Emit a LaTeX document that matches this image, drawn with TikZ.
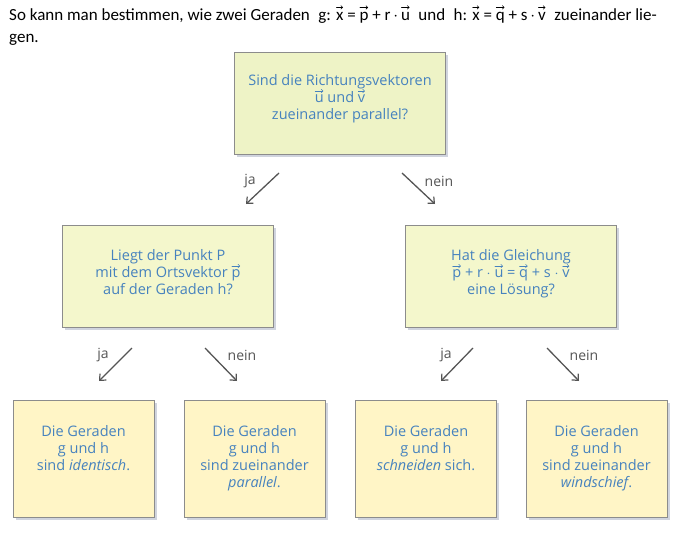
\documentclass[tikz,border=0pt]{standalone}
\usepackage{fontspec}
\setmainfont{Carlito}
\newfontfamily\boxfont{Open Sans}
\usetikzlibrary{shadows,arrows.meta}
\definecolor{topfill}{RGB}{238,243,198}
\definecolor{midfill}{RGB}{244,247,204}
\definecolor{botfill}{RGB}{255,245,198}
\definecolor{boxline}{RGB}{140,140,140}
\definecolor{shadowc}{RGB}{208,212,222}
\definecolor{txtblue}{RGB}{70,130,190}
\definecolor{arrowc}{RGB}{85,85,85}
\newsavebox\vvbox
\newlength\vvw
\newlength\vvh
\newcommand\vv[1]{\leavevmode\colorlet{vvc}{.}\sbox\vvbox{#1}\setlength\vvw{\wd\vvbox}\setlength\vvh{0.8em}%
  \makebox[0pt][l]{\smash{\tikz[baseline=0pt,x=1pt,y=1pt]{\path (0,0);
    \draw[draw=vvc, line width=0.6pt, line cap=round, -{Straight Barb[length=1.8pt,width=3.6pt,line width=0.55pt]}] (0.4pt,\vvh) -- (\vvw-0.4pt,\vvh);}}}%
  \usebox\vvbox\relax}
\begin{document}
\begin{tikzpicture}[x=1pt,y=-1pt,
  qbox/.style={draw=boxline, line width=1pt, inner sep=0pt,
    drop shadow={shadow xshift=2.5pt, shadow yshift=-2.5pt, fill=shadowc, opacity=1}},
  bigbox/.style={qbox, minimum width=211pt, minimum height=102pt},
  smallbox/.style={qbox, fill=botfill, minimum width=141pt, minimum height=117pt},
  btxt/.style={text=txtblue, align=center, inner sep=0pt, anchor=north,
    font=\boxfont\fontsize{14.5}{17}\selectfont},
  lbl/.style={text=arrowc, inner sep=0pt, font=\boxfont\fontsize{14}{15}\selectfont},
  conn/.style={draw=arrowc, line width=1.3pt, -{Straight Barb[length=5pt,width=9pt,line width=1.2pt]}},
  head/.style={anchor=base west, inner sep=0pt, font=\fontsize{17}{20}\selectfont}
]
\useasboundingbox (0,0) rectangle (684,535);

% header
\node[head] (head1) at (9,21) {So kann man bestimmen, wie zwei Geraden\hspace{0.5em}g: \vv{x} = \vv{p} + r\,$\cdot$\,\vv{u}\hspace{0.5em}und\hspace{0.5em}h: \vv{x} = \vv{q} + s\,$\cdot$\,\vv{v}\hspace{0.5em}zueinander lie-};
\node[head] (head2) at (9,42) {gen.};

% boxes
\node[bigbox, fill=topfill] (top) at (340,103.5) {};
\node[btxt] (toptxt) at ([yshift=-22.4pt]top.north) {Sind die Richtungsvektoren\\ \vv{u} und \vv{v}\\ zueinander parallel?};

\node[bigbox, fill=midfill] (midL) at (168,276.5) {};
\node[btxt] (midLtxt) at ([yshift=-24.4pt]midL.north) {Liegt der Punkt P\\ mit dem Ortsvektor \vv{p}\\ auf der Geraden h?};

\node[bigbox, fill=midfill] (midR) at (511,276.5) {};
\node[btxt] (midRtxt) at ([yshift=-24.4pt]midR.north) {Hat die Gleichung\\ \vv{p} + r $\cdot$ \vv{u} = \vv{q} + s $\cdot$ \vv{v}\\ eine Lösung?};

\node[smallbox] (b1) at (83.5,458.5) {};
\node[btxt] (b1txt) at ([yshift=-25.4pt]b1.north) {Die Geraden\\ g und h\\ sind \textit{identisch}.};
\node[smallbox] (b2) at (254.5,458.5) {};
\node[btxt] (b2txt) at ([yshift=-25.4pt]b2.north) {Die Geraden\\ g und h\\ sind zueinander\\ \textit{parallel}.};
\node[smallbox] (b3) at (426,458.5) {};
\node[btxt] (b3txt) at ([yshift=-25.4pt]b3.north) {Die Geraden\\ g und h\\ \textit{schneiden} sich.};
\node[smallbox] (b4) at (596.5,458.5) {};
\node[btxt] (b4txt) at ([yshift=-25.4pt]b4.north) {Die Geraden\\ g und h\\ sind zueinander\\ \textit{windschief}.};

% connectors
\coordinate (a1s) at (279,173); \coordinate (a1e) at (246,204);
\coordinate (a2s) at (402,173); \coordinate (a2e) at (435,204);
\coordinate (c1s) at (132,348); \coordinate (c1e) at (99,381);
\coordinate (c2s) at (205,348); \coordinate (c2e) at (237,381);
\coordinate (c3s) at (473,348); \coordinate (c3e) at (441,381);
\coordinate (c4s) at (547,348); \coordinate (c4e) at (579,381);
\draw[conn] (a1s) -- (a1e);
\draw[conn] (a2s) -- (a2e);
\draw[conn] (c1s) -- (c1e);
\draw[conn] (c2s) -- (c2e);
\draw[conn] (c3s) -- (c3e);
\draw[conn] (c4s) -- (c4e);

\node[lbl] (l1) at (250,181) {ja};
\node[lbl] (l2) at (439,181) {nein};
\node[lbl] (l3) at (103,355) {ja};
\node[lbl] (l4) at (242,355) {nein};
\node[lbl] (l5) at (446,355) {ja};
\node[lbl] (l6) at (584,355) {nein};
\end{tikzpicture}
\end{document}
